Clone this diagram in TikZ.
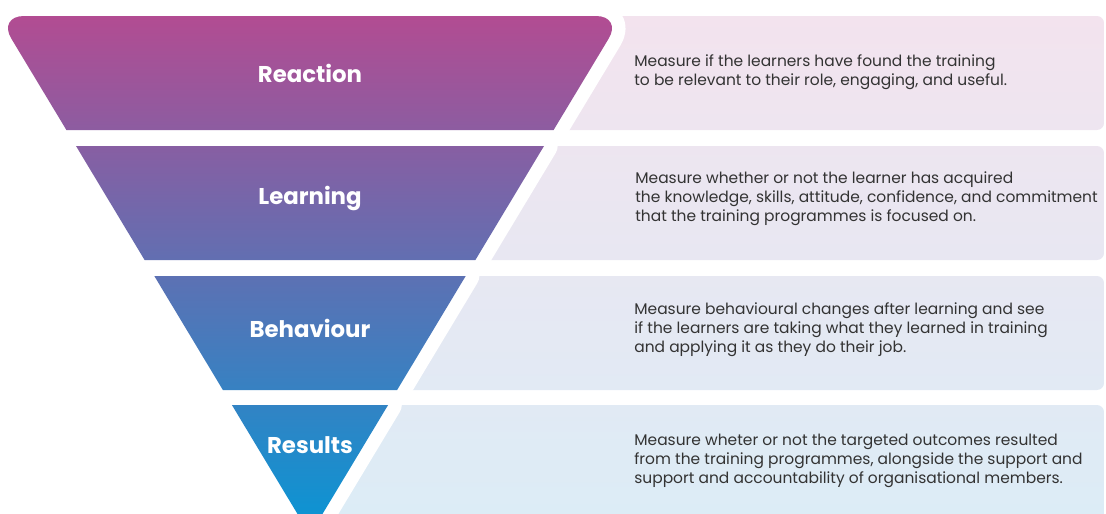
\documentclass[tikz,border=0pt]{standalone}
\usepackage{fontspec}
\setmainfont{Poppins}
\usetikzlibrary{positioning}
\definecolor{reacttop}{HTML}{B24C92}
\definecolor{resultbot}{HTML}{0E93D2}
\definecolor{panelpink}{HTML}{F3E3EE}
\definecolor{panelblue}{HTML}{DCECF6}
\definecolor{desctext}{HTML}{333333}
\tikzset{
    x=0.02cm, y=-0.02cm,
    stage/.style={text=white, inner sep=0pt, font=\fontsize{13}{15}\selectfont\bfseries},
    desc/.style={anchor=west, align=left, inner sep=0pt, text=desctext, font=\fontsize{8.8}{10.8}\selectfont},
    gap/.style={draw=white, line width=15.5pt, line join=round}
}

\begin{document}
\begin{tikzpicture}
    \useasboundingbox (0,0) rectangle (1106,514);
    \clip (0,0) rectangle (1106,514);

    % panels on the right
    \begin{scope}
        \clip (310,16) [rounded corners=4pt] -- (1104,16) -- (1104,130) [sharp corners] -- (310,130) -- cycle
              (310,146) [rounded corners=4pt] -- (1104,146) -- (1104,260) [sharp corners] -- (310,260) -- cycle
              (310,276) [rounded corners=4pt] -- (1104,276) -- (1104,390) [sharp corners] -- (310,390) -- cycle
              (310,405) [rounded corners=4pt] -- (1104,405) -- (1104,530) [sharp corners] -- (310,530) -- cycle;
        \shade[top color=panelpink, bottom color=panelblue] (300,16) rectangle (1106,514);
    \end{scope}

    % white gap round the funnel
    \path[gap] (66.4,130) [rounded corners=15pt] -- (-2.3,16) -- (622.3,16) [sharp corners] -- (553.6,130) -- cycle;
    \path[gap] (76,146) -- (544,146) -- (475.4,260) -- (144.6,260) -- cycle;
    \path[gap] (154.3,276) -- (465.7,276) -- (397.1,390) -- (222.9,390) -- cycle;
    \path[gap] (231.9,405) -- (388.1,405) -- (310,534.7) -- cycle;

    % funnel
    \begin{scope}
        \clip (66.4,130) [rounded corners=15pt] -- (-2.3,16) -- (622.3,16) [sharp corners] -- (553.6,130) -- cycle
              (76,146) -- (544,146) -- (475.4,260) -- (144.6,260) -- cycle
              (154.3,276) -- (465.7,276) -- (397.1,390) -- (222.9,390) -- cycle
              (231.9,405) -- (388.1,405) -- (310,534.7) -- cycle;
        \shade[top color=reacttop, bottom color=resultbot] (-5,16) rectangle (630,514);
    \end{scope}

    \node[stage] (reaction) at (310,73) {Reaction};
    \node[stage] (learning) at (310,198) {Learning};
    \node[stage] (behaviour) at (310,328) {Behaviour};
    \node[stage] (results) at (310,445) {Results};

    \node[desc] (reactiondesc) at (634,72) {Measure if the learners have found the training\\to be relevant to their role, engaging, and useful.};
    \node[desc] (learningdesc) at (635,199) {Measure whether or not the learner has acquired\\the knowledge, skills, attitude, confidence, and commitment\\that the training programmes is focused on.};
    \node[desc] (behaviourdesc) at (634,330) {Measure behavioural changes after learning and see\\if the learners are taking what they learned in training\\and applying it as they do their job.};
    \node[desc] (resultsdesc) at (634,461) {Measure wheter or not the targeted outcomes resulted\\from the training programmes, alongside the support and\\support and accountability of organisational members.};
\end{tikzpicture}
\end{document}
